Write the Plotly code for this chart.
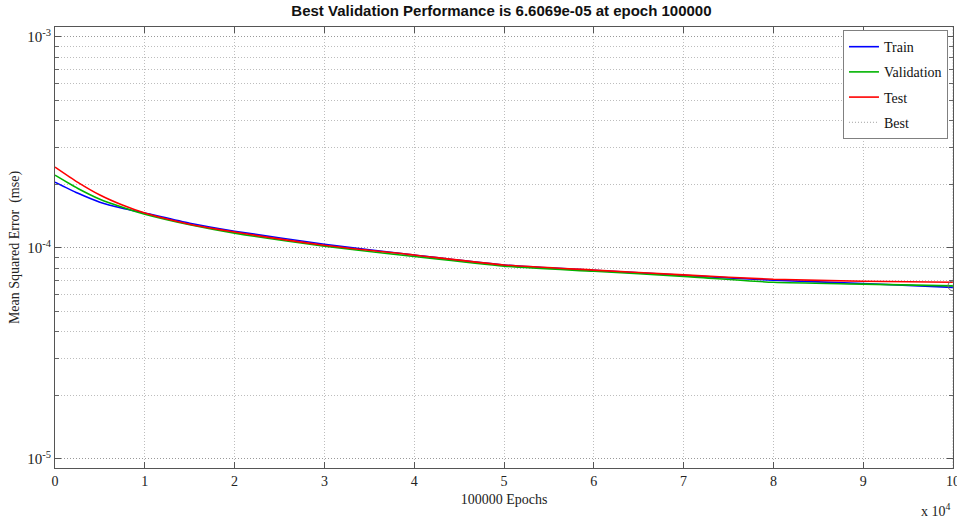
import plotly.graph_objects as go

# ---- data (epochs, mse) ----
epochs = [0, 2500, 5000, 7500, 10000, 15000, 20000, 30000, 40000, 50000,
          60000, 70000, 80000, 90000, 100000]
train = [2.05e-4, 1.82e-4, 1.648e-4, 1.542e-4, 1.463e-4, 1.309e-4, 1.200e-4, 1.04e-4,
         9.25e-5, 8.30e-5, 7.83e-5, 7.41e-5, 7.03e-5, 6.78e-5, 6.50e-5]
validation = [2.213e-4, 1.919e-4, 1.702e-4, 1.560e-4, 1.445e-4, 1.288e-4, 1.175e-4, 1.02e-4,
              9.10e-5, 8.20e-5, 7.75e-5, 7.33e-5, 6.87e-5, 6.74e-5, 6.6069e-5]
test = [2.415e-4, 2.05e-4, 1.78e-4, 1.596e-4, 1.463e-4, 1.295e-4, 1.189e-4, 1.03e-4,
        9.25e-5, 8.30e-5, 7.85e-5, 7.45e-5, 7.10e-5, 6.95e-5, 6.87e-5]
best_epoch = 100000
best_perf = 6.6069e-5

x_tick_vals = [0, 10000, 20000, 30000, 40000, 50000, 60000, 70000, 80000, 90000, 100000]
x_tick_text = ["0", "1", "2", "3", "4", "5", "6", "7", "8", "9", "10"]
y_tick_vals = [1e-5, 1e-4, 1e-3]
y_tick_text = ["10<sup>-5</sup>", "10<sup>-4</sup>", "10<sup>-3</sup>"]

SERIF = "Liberation Serif, DejaVu Serif, serif"
GRID = "#bdbdbd"
DOT = "1px,2px"

fig = go.Figure()
series = [("Train", train, "#0000ff"), ("Validation", validation, "#00b400"),
          ("Test", test, "#ff0000")]
for name, ys, col in series:
    fig.add_trace(go.Scatter(x=epochs, y=ys, mode="lines", name=name,
                             legendgroup=name,
                             line=dict(color=col, width=1.6, shape="spline", smoothing=0.6)))

fig.add_trace(go.Scatter(x=[best_epoch, best_epoch], y=[9e-6, 1.2e-3], mode="lines",
                         name="Best", legendgroup="Best",
                         line=dict(color="#a0a0a0", width=1, dash=DOT)))
fig.add_trace(go.Scatter(x=[best_epoch], y=[best_perf], mode="markers",
                         showlegend=False,
                         marker=dict(symbol="circle-open", size=10,
                                     color="#707070", line=dict(width=1))))

minor_vals = [m * 10.0 ** e for e in (-6, -5, -4, -3) for m in range(2, 10)]

fig.update_layout(
    width=957, height=519,
    margin=dict(l=55, r=4, t=27, b=51, autoexpand=False),
    paper_bgcolor="white", plot_bgcolor="white",
    title=dict(text="<b>Best Validation Performance is 6.6069e-05 at epoch 100000</b>",
               x=0.524, xanchor="center", y=0.98, yanchor="middle",
               font=dict(family="Liberation Sans, Arial, sans-serif", size=15, color="#111")),
    legend=dict(x=0.9944, y=0.993, xanchor="right", yanchor="top",
                bgcolor="white", bordercolor="#808080", borderwidth=1,
                font=dict(family=SERIF, size=14, color="#111"),
                tracegroupgap=4, itemwidth=30),
    showlegend=True,
)

fig.update_xaxes(
    range=[0, 100000], tickvals=x_tick_vals, ticktext=x_tick_text,
    ticks="inside", ticklen=6, tickcolor="#555", ticklabeloverflow="allow",
    automargin=False,
    showline=True, linecolor="#555", linewidth=1, mirror="ticks",
    showgrid=True, gridcolor=GRID, griddash=DOT, gridwidth=1,
    zeroline=False,
    tickfont=dict(family=SERIF, size=14, color="#222"),
    title=dict(text="100000 Epochs", font=dict(family=SERIF, size=14, color="#222"),
               standoff=6),
)
fig.update_yaxes(
    type="log", range=[-5.043, -2.953],
    tickvals=y_tick_vals, ticktext=y_tick_text,
    ticks="inside", ticklen=6, tickcolor="#555",
    automargin=False,
    showline=True, linecolor="#555", linewidth=1, mirror="ticks",
    showgrid=True, gridcolor="#999999", griddash=DOT, gridwidth=1,
    zeroline=False,
    minor=dict(tickvals=minor_vals, ticks="inside", ticklen=4, tickcolor="#666",
               showgrid=True, gridcolor=GRID, griddash=DOT, gridwidth=1),
    tickfont=dict(family=SERIF, size=15, color="#222"),
    title=dict(text="Mean Squared Error  (mse)", font=dict(family=SERIF, size=14, color="#222"),
               standoff=4),
)

fig.add_annotation(text="x 10<sup>4</sup>", xref="paper", yref="paper",
                   x=1.0, y=-0.07, xanchor="right", yanchor="top", showarrow=False,
                   font=dict(family=SERIF, size=14, color="#222"))

fig.write_html("out.html")
